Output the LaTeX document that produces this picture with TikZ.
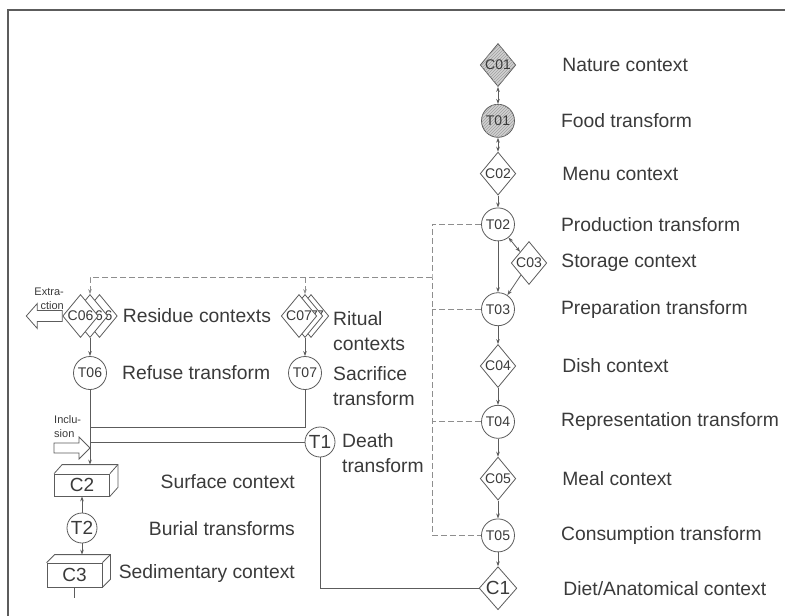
\documentclass[tikz,border=0pt]{standalone}
\usepackage{fontspec}
\setmainfont{Liberation Sans}
\usepackage{tikz}
\usetikzlibrary{positioning, arrows.meta, shapes.geometric, patterns, calc}
\definecolor{ink}{HTML}{3A3A3A}
\definecolor{wire}{HTML}{5C5C5C}
\definecolor{dashwire}{HTML}{8E8E8E}

\begin{document}
\begin{tikzpicture}[x=1pt, y=-1pt, node distance=17pt, >={Stealth[length=5pt,width=3.6pt]},
        ctx/.style={draw=wire, fill=white, shape=diamond, inner sep=0pt, minimum width=35pt,
            minimum height=43pt, font=\fontsize{14}{14}\selectfont, text=ink, line width=0.8pt},
        tr/.style={draw=wire, fill=white, circle, inner sep=0pt, minimum size=33pt,
            font=\fontsize{14}{14}\selectfont, text=ink, line width=0.8pt},
        bigtxt/.style={font=\fontsize{19}{19}\selectfont},
        hatched/.style={fill=gray!35, postaction={pattern=north east lines, pattern color=gray!75}},
        lbl/.style={inner sep=0pt, text=ink, font=\fontsize{19.3}{25}\selectfont, align=left},
        note/.style={inner sep=0pt, text=ink, font=\fontsize{11}{14}\selectfont},
        ln/.style={draw=wire, line width=0.8pt},
        dashln/.style={draw=dashwire, line width=0.8pt, dash pattern=on 6pt off 3pt},
        cube/.style={draw=wire, fill=white, inner sep=0pt, minimum width=55pt, minimum height=22pt,
            font=\fontsize{19}{19}\selectfont, text=ink, line width=0.8pt}]
        \useasboundingbox (0,0) rectangle (785,616);
        \draw[wire, line width=1.2pt] (8,616) -- (8,10) -- (785,10);

        % main food chain
        \node[ctx, hatched] (c01) at (498,65) {C01};
        \node[tr, hatched] (t01) [below=17pt of c01] {T01};
        \node[ctx] (c02) [below=14pt of t01] {C02};
        \node[tr] (t02) [below=12pt of c02] {T02};
        \node[tr] (t03) [below=51pt of t02] {T03};
        \node[ctx] (c03) at (529,263) {C03};
        \node[ctx] (c04) [below=18pt of t03] {C04};
        \node[tr] (t04) [below=17pt of c04] {T04};
        \node[ctx] (c05) [below=18pt of t04] {C05};
        \node[tr] (t05) [below=18pt of c05] {T05};
        \node[ctx, bigtxt] (c1) [below=14pt of t05] {C1};

        \node[lbl, right=46pt of c01] {Nature context};
        \node[lbl, right=46pt of t01] {Food transform};
        \node[lbl, right=46pt of c02] {Menu context};
        \node[lbl, right=46pt of t02] {Production transform};
        \node[lbl, right=14pt of c03] {Storage context};
        \node[lbl, right=46pt of t03] {Preparation transform};
        \node[lbl, right=46pt of c04] {Dish context};
        \node[lbl, right=46pt of t04] {Representation transform};
        \node[lbl, right=46pt of c05] {Meal context};
        \node[lbl, right=46pt of t05] {Consumption transform};
        \node[lbl, right=46pt of c1] {Diet/Anatomical context};

        \draw[ln, <->] (c01) -- (t01);
        \draw[ln, <->] (t01) -- (c02);
        \draw[ln, ->] (c02) -- (t02);
        \draw[ln, ->] (t02) -- (t03);
        \draw[ln, <->] (t02) -- (c03);
        \draw[ln, ->] (c03) -- (t03);
        \draw[ln, ->] (t03) -- (c04);
        \draw[ln, ->] (c04) -- (t04);
        \draw[ln, ->] (t04) -- (c05);
        \draw[ln, ->] (c05) -- (t05);
        \draw[ln, ->] (t05) -- (c1);

        % residue and ritual branches
        \node[ctx] (c06c) at (99.5,316) {C06};
        \node[ctx] (c06b) at (90,316) {C06};
        \node[ctx] (c06) at (80.5,316) {C06};
        \node[ctx] (c07c) at (311,316) {C07};
        \node[ctx] (c07b) at (305,316) {C07};
        \node[ctx] (c07) at (299,316) {C07};
        \node[tr] (t06) at (90,373) {T06};
        \node[tr] (t07) at (305,373) {T07};
        \node[tr, bigtxt, minimum size=30pt] (t1) at (320,442) {T1};

        \node[lbl, right=5pt of c06c] {Residue contexts};
        \node[lbl, anchor=north west] at (333,311) {Ritual\\contexts};
        \node[lbl, right=15pt of t06] {Refuse transform};
        \node[lbl, anchor=north west] at (333,366) {Sacrifice\\transform};
        \node[lbl, anchor=north west] at (342,433) {Death\\transform};
        \node[note, align=right, anchor=south east] at (64,310) {Extra-\\ction};
        \node[note, align=left, anchor=south west] at (54,438) {Inclu-\\sion};

        \coordinate (bus) at (432,277);
        \draw[dashln] (t02) -| (bus) |- (t05);
        \draw[dashln] (t03) -- (t03 -| bus);
        \draw[dashln] (t04) -- (t04 -| bus);
        \draw[dashln, ->] (bus) -| (c06b);
        \draw[dashln, ->] (c07b |- bus) -- (c07b);

        \draw[ln, ->] (c06b) -- (t06);
        \draw[ln, ->] (c07b) -- (t07);
        \draw[ln, fill=white] (c06.west) -- ++(0,-5.5) -- ++(-25,0) -- ++(0,-7) -- ++(-11,12.5)
            -- ++(11,12.5) -- ++(0,-7) -- ++(25,0) -- cycle;

        % burial
        \node[cube] (c2) at (82,485) {C2};
        \node[tr, bigtxt, minimum size=30pt] (t2) at (82,528) {T2};
        \node[cube, minimum height=24pt] (c3) at (74.5,575) {C3};
        \draw[ln] (c2.north west) -- ++(8,-9) -| ($(c2.south east)+(8,-9)$) -- (c2.south east);
        \draw[ln] (c2.north east) -- ++(8,-9);
        \draw[ln] (c3.north west) -- ++(8,-8) -| ($(c3.south east)+(8,-8)$) -- (c3.south east);
        \draw[ln] (c3.north east) -- ++(8,-8);
        \node[lbl, anchor=east] at (295,482) {Surface context};
        \node[lbl, anchor=east] at (295,529) {Burial transforms};
        \node[lbl, anchor=east] at (295,574) {Sedimentary context};

        \coordinate (c2top) at ($(c2.north)+(8,-9)$);
        \coordinate (c3top) at ($(c3.north)+(7.5,-8)$);
        \coordinate (c3out) at ($(c3.south)+(0,11)$);
        \coordinate (jn) at (90,427);
        \coordinate (inc) at (90,448);
        \draw[ln, ->] (t06) -- (c2top);
        \draw[ln] (t07) |- (jn);
        \draw[ln] (t1) -- (t1 -| t06);
        \draw[ln] (t1) |- (c1);
        \draw[ln, fill=white] (inc) -- ++(-11,-11) -- ++(0,6) -- ++(-25,0) -- ++(0,10) -- ++(25,0)
            -- ++(0,6) -- cycle;
        \draw[ln, ->] (t2) -- (c2);
        \draw[ln, ->] (t2) -- (c3top);
        \draw[ln] (c3) -- (c3out);
\end{tikzpicture}
\end{document}
